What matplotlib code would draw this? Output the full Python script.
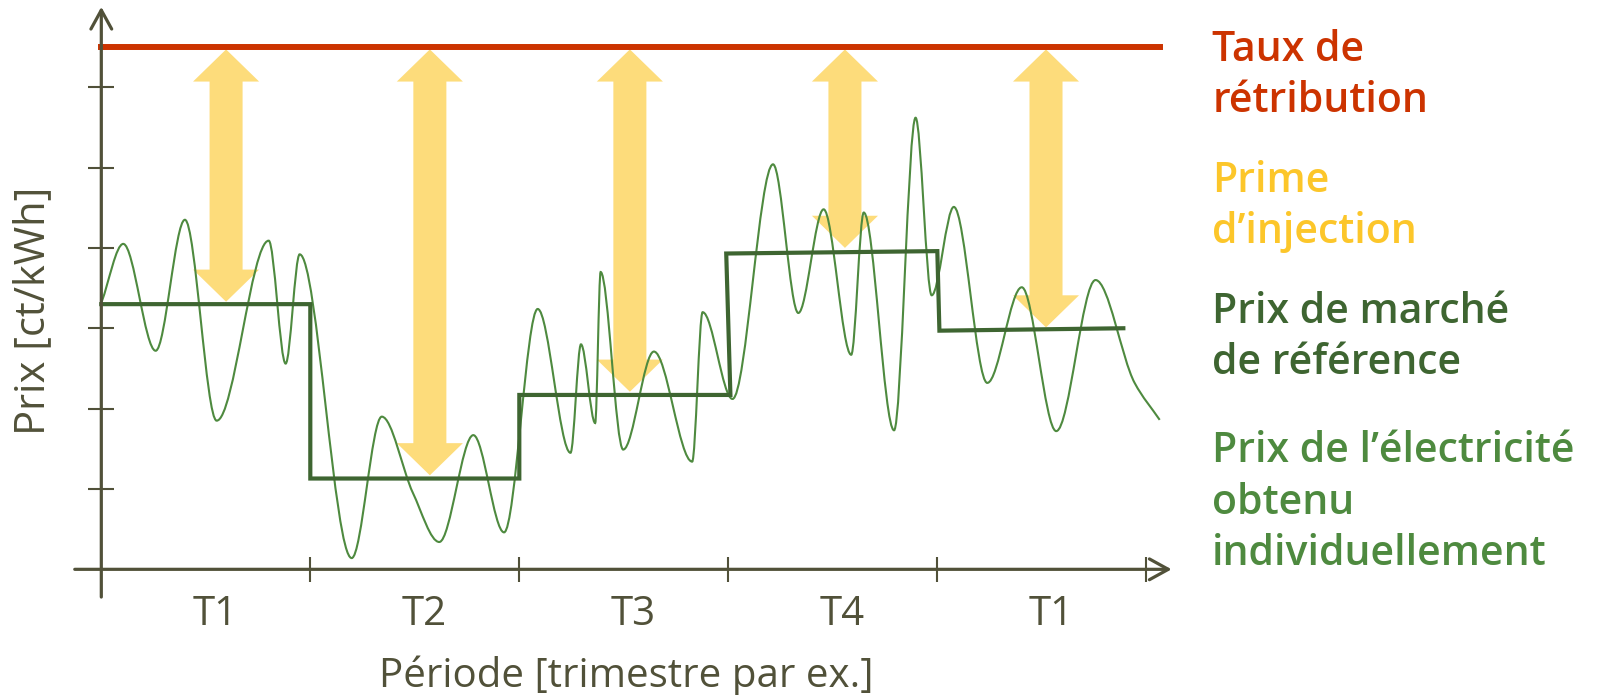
import numpy as np
import matplotlib
matplotlib.use("Agg")
import matplotlib.pyplot as plt
from matplotlib.path import Path
from matplotlib.patches import PathPatch, Polygon

plt.rcParams['font.family'] = ['Open Sans', 'DejaVu Sans']

# x in quarters (1 unit = one quarter), y in arbitrary price units
quarters = ['T1', 'T2', 'T3', 'T4', 'T1']
quarter_label_x = [0.545, 1.545, 2.545, 3.545, 4.545]
x_ticks = [1, 2, 3, 4, 5]
y_ticks = [1, 2, 3, 4, 5, 6]

feed_in_rate = 6.50  # taux de retribution

# reference market price (step line)
ref_x = [0.0, 1.0, 1.0, 2.0, 2.0, 3.01, 2.99, 4.0, 4.01, 4.89]
ref_y = [3.30, 3.30, 1.13, 1.13, 2.17, 2.17, 3.93, 3.96, 2.97, 3.00]

# individually obtained price (peaks / troughs of the thin line)
ind_x = [0.002, 0.105, 0.260, 0.400, 0.552, 0.801, 0.882, 0.949, 1.198, 1.342,
         1.491, 1.617, 1.780, 1.927, 2.088, 2.245, 2.295, 2.363, 2.389, 2.497,
         2.644, 2.827, 2.877, 3.020, 3.214, 3.335, 3.456, 3.588, 3.648, 3.793,
         3.896, 3.973, 4.079, 4.239, 4.404, 4.569, 4.757, 4.944, 5.064]
ind_y = [3.33, 4.05, 2.72, 4.35, 1.85, 4.09, 2.56, 3.92, 0.14, 1.90,
         0.95, 0.34, 1.67, 0.46, 3.24, 1.45, 2.80, 1.82, 3.70, 1.49,
         2.71, 1.34, 3.20, 2.12, 5.04, 3.19, 4.48, 2.67, 4.44, 1.73,
         5.62, 3.41, 4.51, 2.32, 3.51, 1.72, 3.60, 2.32, 1.86]

# injection premium arrows (between feed-in rate and reference price)
prem_x = [0.597, 1.572, 2.529, 3.558, 4.52]
prem_top = [6.47, 6.47, 6.47, 6.47, 6.47]
prem_bot = [3.33, 1.17, 2.21, 4.00, 3.01]

labels = ["Taux de\nrétribution", "Prime\nd’injection",
          "Prix de marché\nde référence",
          "Prix de l’électricité\nobtenu\nindividuellement"]
label_colors = ['#cc3300', '#fcc62a', '#3e6531', '#4e8a3f']
label_y = [6.33, 4.70, 3.07, 1.33]

axis_col = '#515139'

fig = plt.figure(figsize=(16.03, 6.95), dpi=100)
ax = fig.add_axes([0, 0, 1, 1])
ax.set_xlim(-0.4847, 7.185)
ax.set_ylim(-1.564, 7.085)
for s in ax.spines.values():
    s.set_visible(False)
ax.spines['left'].set_position(('data', 0))
ax.spines['bottom'].set_position(('data', 0))

# arrows for the premium
hw, hhw, hl = 0.079, 0.158, 0.40
for x, t, b in zip(prem_x, prem_top, prem_bot):
    verts = [(x, t), (x + hhw, t - hl), (x + hw, t - hl), (x + hw, b + hl),
             (x + hhw, b + hl), (x, b), (x - hhw, b + hl), (x - hw, b + hl),
             (x - hw, t - hl), (x - hhw, t - hl)]
    ax.add_patch(Polygon(verts, closed=True, fc='#fddc7b', ec='none', zorder=1))

# thin wiggly line drawn as bezier path through the extremes
xs = np.array(ind_x)
ys = np.array(ind_y)
h = np.diff(xs)
d = np.diff(ys) / h
m = np.zeros_like(xs)
m[0], m[-1] = d[0], d[-1]
for k in range(1, len(xs) - 1):
    if d[k - 1] * d[k] > 0:
        w1 = 2 * h[k] + h[k - 1]
        w2 = h[k] + 2 * h[k - 1]
        m[k] = (w1 + w2) / (w1 / d[k - 1] + w2 / d[k])
verts = [(xs[0], ys[0])]
codes = [Path.MOVETO]
for k in range(len(h)):
    verts += [(xs[k] + h[k] / 3, ys[k] + m[k] * h[k] / 3),
              (xs[k + 1] - h[k] / 3, ys[k + 1] - m[k + 1] * h[k] / 3),
              (xs[k + 1], ys[k + 1])]
    codes += [Path.CURVE4] * 3
ax.add_patch(PathPatch(Path(verts, codes), fc='none', ec='#4e8a3f', lw=1.5, zorder=3))

ax.plot(ref_x, ref_y, color='#3e6531', lw=3, solid_joinstyle='miter', zorder=4)
ax.plot([0, 5.065], [feed_in_rate, feed_in_rate], color='#cc3300', lw=4.3, zorder=5)

# axes with arrows
ax.annotate('', xy=(0, 7.0), xytext=(0, -0.345),
            arrowprops=dict(arrowstyle='->,head_length=0.4,head_width=0.22',
                            mutation_scale=34, lw=2.3, color=axis_col,
                            shrinkA=0, shrinkB=0), zorder=6)
ax.annotate('', xy=(5.121, 0), xytext=(-0.127, 0),
            arrowprops=dict(arrowstyle='->,head_length=0.4,head_width=0.22',
                            mutation_scale=34, lw=2.3, color=axis_col,
                            shrinkA=0, shrinkB=0), zorder=6)

ax.set_xticks(x_ticks)
ax.set_yticks(y_ticks)
ax.set_xticklabels([])
ax.set_yticklabels([])
ax.tick_params(axis='x', direction='inout', length=18, width=1.5, color=axis_col)
ax.tick_params(axis='y', direction='inout', length=19, width=1.5, color=axis_col)

for x, q in zip(quarter_label_x, quarters):
    ax.text(x, -0.693, q, ha='center', va='baseline', fontsize=29, color=axis_col)

ax.text(2.51, -1.46, 'Période [trimestre par ex.]', ha='center', va='baseline',
        fontsize=29, color=axis_col)
ax.text(-0.327, 3.215, 'Prix [ct/kWh]', ha='center', va='center', rotation=90,
        fontsize=30, color=axis_col)

for lab, col, y0 in zip(labels, label_colors, label_y):
    for i, line in enumerate(lab.split('\n')):
        ax.text(5.315, y0 - i * 0.641, line, ha='left', va='baseline',
                fontsize=29.5, fontweight='semibold', color=col)

fig.savefig('out.png', dpi=100)
